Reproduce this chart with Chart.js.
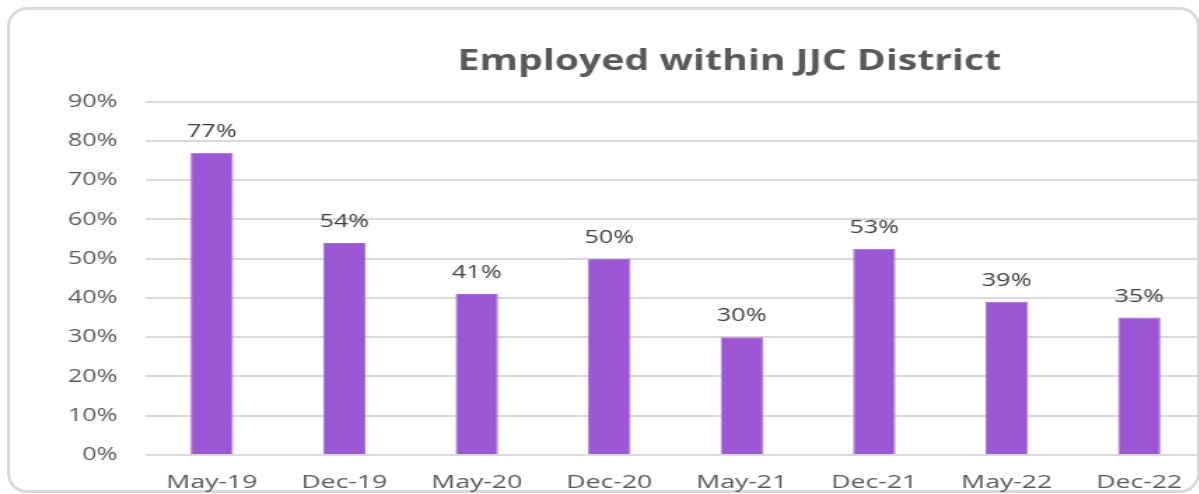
<!DOCTYPE html>
<html>
<head>
<meta charset="utf-8">
<script src="https://cdn.jsdelivr.net/npm/chart.js@4"></script>
<style>
  html, body { margin: 0; padding: 0; background: #fff; overflow: hidden; width: 1199px; height: 494px; }
  #frame { position: absolute; left: 7px; top: 7px; width: 1187px; height: 480px; border: 3px solid #d9d9d9; border-radius: 20px; box-sizing: content-box; }
  #wrap { position: absolute; left: 0; top: 0; transform-origin: 0 0; transform: scaleX(1.4); }
  canvas { display: block; }
</style>
</head>
<body>
<div id="frame"></div>
<div id="wrap"><canvas id="c" width="1042" height="494"></canvas></div>
<script>
const categories = ['May-19', 'Dec-19', 'May-20', 'Dec-20', 'May-21', 'Dec-21', 'May-22', 'Dec-22'];
const employedPct = [77, 54, 41, 50, 30, 52.5, 39, 35];
const yTicks = [0, 10, 20, 30, 40, 50, 60, 70, 80, 90];
const chartTitle = 'Employed within JJC District';

const FONT = '"Open Sans", "Liberation Sans", sans-serif';

const valueLabels = {
  id: 'valueLabels',
  afterDatasetsDraw(chart) {
    const ctx = chart.ctx;
    const meta = chart.getDatasetMeta(0);
    ctx.save();
    ctx.font = '18px ' + FONT;
    ctx.fillStyle = '#404040';
    ctx.textAlign = 'center';
    ctx.textBaseline = 'alphabetic';
    meta.data.forEach((el, i) => {
      const v = chart.data.datasets[0].data[i];
      ctx.fillText(Math.round(v) + '%', el.x, el.y - 16);
    });
    ctx.restore();
  }
};

new Chart(document.getElementById('c'), {
  type: 'bar',
  data: {
    labels: categories,
    datasets: [{
      data: employedPct,
      backgroundColor: '#9b57d3',
      borderColor: '#a66ad8',
      borderWidth: 1,
      categoryPercentage: 1,
      barPercentage: 0.32
    }]
  },
  options: {
    responsive: false,
    animation: false,
    layout: { padding: 0 },
    plugins: {
      legend: { display: false },
      tooltip: { enabled: false },
      title: {
        display: true,
        text: chartTitle,
        color: '#595959',
        font: { family: FONT, size: 28, weight: 'bold', lineHeight: 1.2 },
        padding: { top: 45, bottom: 23 }
      }
    },
    scales: {
      x: {
        grid: { display: false },
        border: { display: false },
        ticks: { color: '#595959', font: { family: FONT, size: 19 }, padding: 8, maxRotation: 0 },
        afterFit(s) { s.height = 39; }
      },
      y: {
        min: 0,
        max: 90,
        afterBuildTicks(s) { s.ticks = yTicks.map(v => ({ value: v })); },
        grid: { color: '#d9d9d9', lineWidth: 2, drawTicks: false },
        border: { display: false },
        ticks: { color: '#595959', font: { family: FONT, size: 18 }, padding: 20, callback: v => v + '%' },
        afterFit(s) { s.width = 104; }
      },
      yRight: {
        position: 'right',
        min: 0,
        max: 90,
        grid: { display: false, drawTicks: false },
        border: { display: false },
        ticks: { display: false },
        afterFit(s) { s.width = 181; }
      }
    }
  },
  plugins: [valueLabels]
});
</script>
</body>
</html>
